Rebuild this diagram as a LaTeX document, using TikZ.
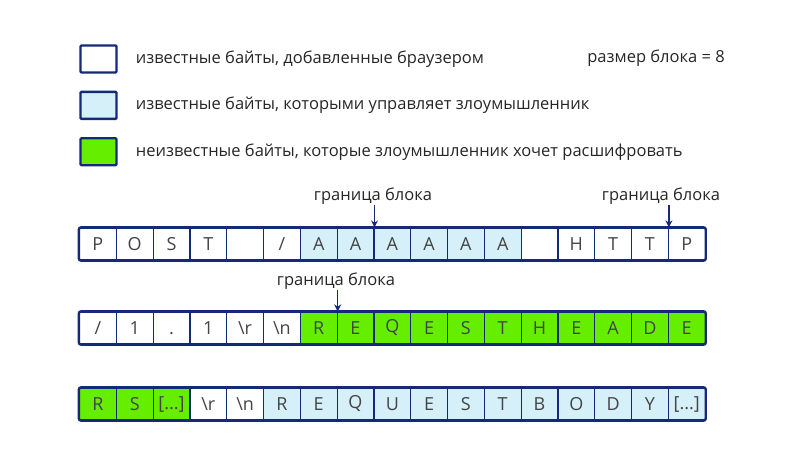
\documentclass[tikz,border=0pt]{standalone}
\usepackage{fontspec}
\setmainfont{Open Sans}
\usetikzlibrary{positioning, arrows.meta}
\definecolor{frame}{HTML}{142A78}
\definecolor{usrblue}{HTML}{D6F0FA}
\definecolor{secgreen}{HTML}{66EE00}
\definecolor{glyph}{HTML}{444444}
\tikzset{
  byte/.style={draw=frame, line width=1.2pt, minimum width=36.8pt, minimum height=32pt,
    inner sep=0pt, text=glyph},
  wht/.style={byte, fill=white},
  usr/.style={byte, fill=usrblue},
  sec/.style={byte, fill=secgreen},
  key/.style={draw=frame, line width=2.4pt, rounded corners=1pt, minimum width=36pt, minimum height=27pt},
  lbl/.style={font=\fontsize{16.5}{18}\selectfont, text=black!85, inner sep=0pt},
  bound/.style={-{Stealth[length=7pt,width=7pt]}, draw=frame, line width=1.4pt},
  row/.style={draw=frame, line width=2.4pt, rounded corners=2pt}
}
\newcommand{\bytetext}[1]{\fontsize{18pt}{20pt}\selectfont\rule{0pt}{13pt}#1}
\begin{document}
\begin{tikzpicture}[x=1pt, y=-1pt]
  \useasboundingbox (0,0) rectangle (800,462);
  % legend
  \node[key, fill=white] (k1) at (98.5,59) {};
  \node[key, fill=usrblue, below=17pt of k1] (k2) {};
  \node[key, fill=secgreen, below=17pt of k2] (k3) {};
  \node[lbl, right=18pt of k1] (t1) {известные байты, добавленные браузером};
  \node[lbl, right=18pt of k2] (t2) {известные байты, которыми управляет злоумышленник};
  \node[lbl, right=18pt of k3] (t3) {неизвестные байты, которые злоумышленник хочет расшифровать};
  \node[lbl, anchor=east] (bs) at (725,58) {размер блока = 8};
  % rows of bytes
  \foreach \ch/\kind [count=\i] in {P/wht, O/wht, S/wht, T/wht, {}/wht, {/}/wht,
      A/usr, A/usr, A/usr, A/usr, A/usr, A/usr, {}/wht, H/wht, T/wht, T/wht, P/wht}
    \node[\kind] (a\i) at (79.5+36.8*\i-18.4, 244) {\bytetext{\ch}};
  \foreach \ch/\kind [count=\i] in {{/}/wht, 1/wht, {.}/wht, 1/wht, {\textbackslash r}/wht, {\textbackslash n}/wht,
      R/sec, E/sec, Q/sec, E/sec, S/sec, T/sec, H/sec, E/sec, A/sec, D/sec, E/sec}
    \node[\kind] (b\i) at (79.5+36.8*\i-18.4, 328) {\bytetext{\ch}};
  \foreach \ch/\kind [count=\i] in {R/sec, S/sec, {[...]}/sec, {\textbackslash r}/wht, {\textbackslash n}/wht,
      R/usr, E/usr, Q/usr, U/usr, E/usr, S/usr, T/usr, B/usr, O/usr, D/usr, Y/usr, {[...]}/usr}
    \node[\kind] (c\i) at (79.5+36.8*\i-18.4, 404) {\bytetext{\ch}};
  \draw[row] (a1.north west) rectangle (a17.south east);
  \draw[row] (b1.north west) rectangle (b17.south east);
  \draw[row] (c1.north west) rectangle (c17.south east);
  % block boundaries
  \node[lbl] (g1) at (373,196) {граница блока};
  \node[lbl] (g2) at (661,196) {граница блока};
  \node[lbl] (g3) at (336,281) {граница блока};
  \draw[bound] (g1.south -| a8.north east) -- (a8.north east);
  \draw[bound] (g2.south -| a16.north east) -- (a16.north east);
  \draw[bound] (g3.south -| b7.north east) -- (b7.north east);
\end{tikzpicture}
\end{document}
